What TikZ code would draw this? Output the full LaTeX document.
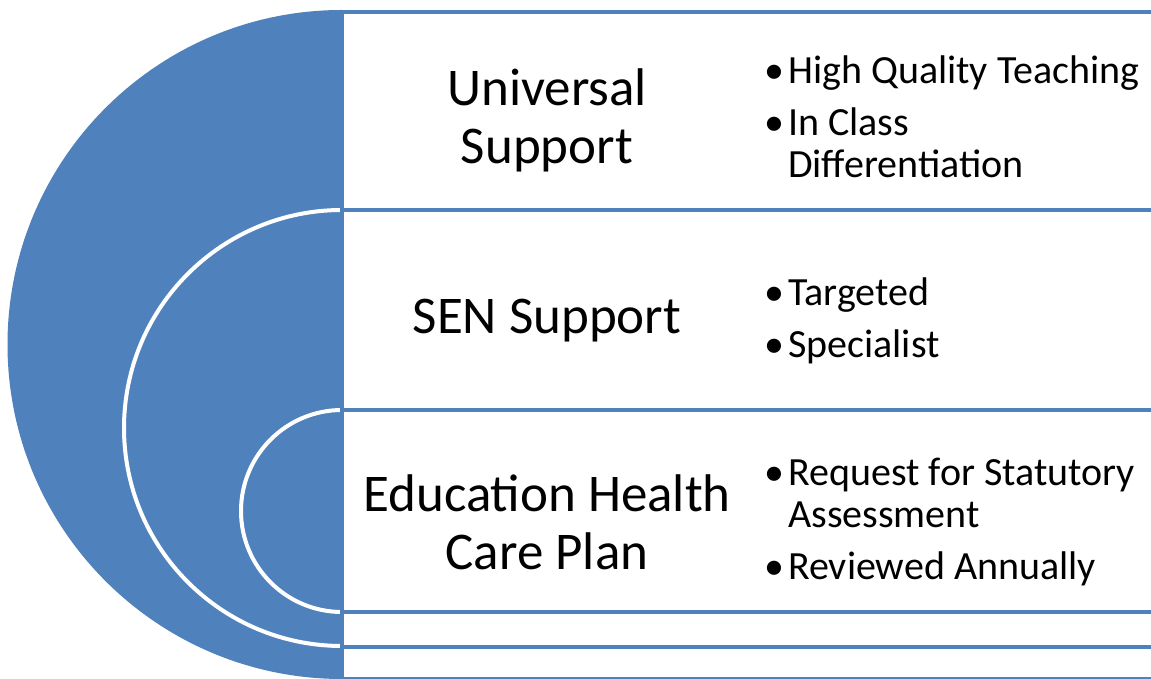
\documentclass[tikz,border=0pt]{standalone}
\usepackage{fontspec}
\setmainfont{Carlito}
\usetikzlibrary{positioning}
\definecolor{tierblue}{RGB}{79,129,189}
\newcommand{\bul}[1]{\makebox[24pt][l]{\textbullet}#1}
\newcommand{\cont}[1]{\hspace*{24pt}#1}

\begin{document}
\begin{tikzpicture}[x=1pt,y=1pt]
  \tikzset{tierbox/.style={draw=tierblue, line width=4.5pt, fill=white,
    minimum width=830pt, outer sep=0pt, inner sep=0pt}};
  \tikzset{title/.style={font=\fontsize{53}{58}\selectfont, align=center}};
  \tikzset{items/.style={font=\fontsize{40}{42}\selectfont, align=left,
    anchor=west, inner sep=0pt}};
  \tikzset{ring/.style={draw=white, line width=4pt, fill=tierblue}};
  \clip (0,0) rectangle (1151,679);
  \fill[white] (0,0) rectangle (1151,679);

  % half discs
  \fill[tierblue] (342,669) arc[start angle=90, end angle=270, radius=334.5] -- cycle;
  \draw[ring] (342,469) arc[start angle=90, end angle=270, radius=218];
  \draw[ring] (342,269) arc[start angle=90, end angle=270, radius=101];

  % tier boxes
  \node[tierbox, minimum height=198pt, anchor=north west](univ) at (342,667){};
  \node[tierbox, minimum height=200pt, below=0pt of univ](sen){};
  \node[tierbox, minimum height=202pt, below=0pt of sen](ehcp){};
  \node[tierbox, minimum height=35pt, below=0pt of ehcp](stripA){};
  \node[tierbox, minimum height=32pt, below=0pt of stripA](stripB){};

  % titles
  \node[title](univT) at (547,559){Universal\\Support};
  \node[title](senT) at (547,358){SEN Support};
  \node[title](ehcpT) at (547,157){Education Health\\Care Plan};

  % bullet lists
  \node[items](univL) at (764,562){\bul{High Quality Teaching}\\[10pt]\bul{In Class}\\\cont{Differentiation}};
  \node[items](senL) at (764,358){\bul{Targeted}\\[10pt]\bul{Specialist}};
  \node[items](ehcpL) at (764,157){\bul{Request for Statutory}\\\cont{Assessment}\\[10pt]\bul{Reviewed Annually}};
\end{tikzpicture}
\end{document}
